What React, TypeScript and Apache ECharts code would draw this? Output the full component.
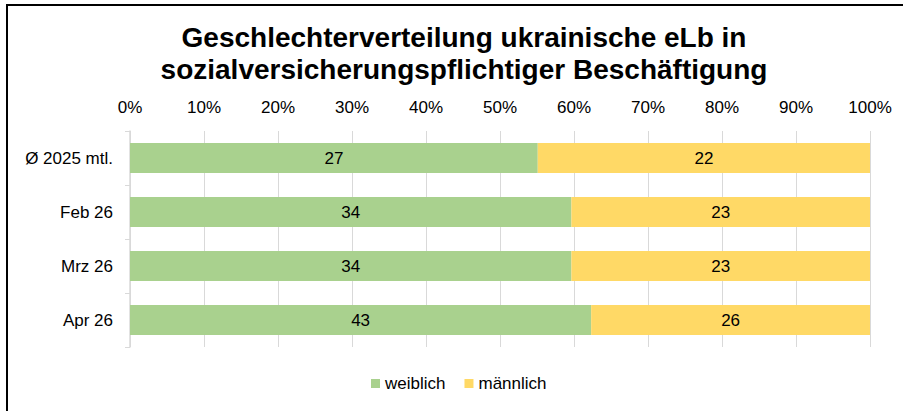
import React, { useEffect, useRef } from "react";
import * as echarts from "echarts";

const categories = ["Ø 2025 mtl.", "Feb 26", "Mrz 26", "Apr 26"];
const weiblich = [27, 34, 34, 43];
const maennlich = [22, 23, 23, 26];
const seriesNames = ["weiblich", "männlich"];
const titleLines = [
  "Geschlechterverteilung ukrainische eLb in",
  "sozialversicherungspflichtiger Beschäftigung",
];

const FONT = "Liberation Sans, Arial, sans-serif";

export default function App() {
  const ref = useRef<HTMLDivElement>(null);
  useEffect(() => {
    if (!ref.current) return;
    const chart = echarts.init(ref.current, null, { renderer: "svg" });
    const totals = weiblich.map((w, i) => w + maennlich[i]);
    const wPct = weiblich.map((w, i) => (w / totals[i]) * 100);
    const mPct = maennlich.map((m, i) => (m / totals[i]) * 100);
    const raw = [weiblich, maennlich];
    const label = (s: number) => ({
      show: true,
      position: "inside",
      color: "#000",
      fontSize: 17,
      fontFamily: FONT,
      formatter: (p: any) => String(raw[s][p.dataIndex]),
    });
    chart.setOption({
      animation: false,
      textStyle: { fontFamily: FONT },
      title: {
        text: titleLines.join("\n"),
        left: 459,
        top: 16,
        textAlign: "center",
        textStyle: {
          fontSize: 28,
          fontWeight: "bold",
          color: "#000",
          fontFamily: FONT,
          lineHeight: 32,
        },
      },
      legend: {
        bottom: 14,
        left: 366,
        itemWidth: 9,
        itemHeight: 9,
        itemGap: 19,
        icon: "rect",
        textStyle: { fontSize: 17, color: "#000", fontFamily: FONT, padding: [0, 0, 0, 0] },
        data: seriesNames,
      },
      grid: { left: 130, right: 33, top: 131, bottom: 64 },
      xAxis: {
        type: "value",
        position: "top",
        min: 0,
        max: 100,
        interval: 10,
        axisLine: { show: false },
        axisTick: { show: false },
        axisLabel: {
          formatter: "{value}%",
          fontSize: 17,
          color: "#000",
          fontFamily: FONT,
          margin: 15,
        },
        splitLine: { lineStyle: { color: "#d9d9d9", width: 1 } },
      },
      yAxis: {
        type: "category",
        inverse: true,
        data: categories,
        axisLine: { lineStyle: { color: "#d9d9d9", width: 1.5 } },
        axisTick: { show: true, length: 5, lineStyle: { color: "#d9d9d9" } },
        axisLabel: { fontSize: 17, color: "#000", fontFamily: FONT, margin: 17 },
      },
      series: [
        {
          name: seriesNames[0],
          type: "bar",
          stack: "total",
          barWidth: 30,
          itemStyle: { color: "#a9d18e" },
          label: label(0),
          data: wPct,
        },
        {
          name: seriesNames[1],
          type: "bar",
          stack: "total",
          barWidth: 30,
          itemStyle: { color: "#ffd966" },
          label: label(1),
          data: mPct,
        },
      ],
      graphic: [
        {
          type: "rect",
          shape: { x: 7, y: 5, width: 1200, height: 1200 },
          style: { fill: "none", stroke: "#000", lineWidth: 2 },
          silent: true,
        },
      ],
    });
    return () => chart.dispose();
  }, []);
  return (
    <div
      ref={ref}
      style={{ position: "absolute", left: 0, top: 0, width: 903, height: 411 }}
    />
  );
}
